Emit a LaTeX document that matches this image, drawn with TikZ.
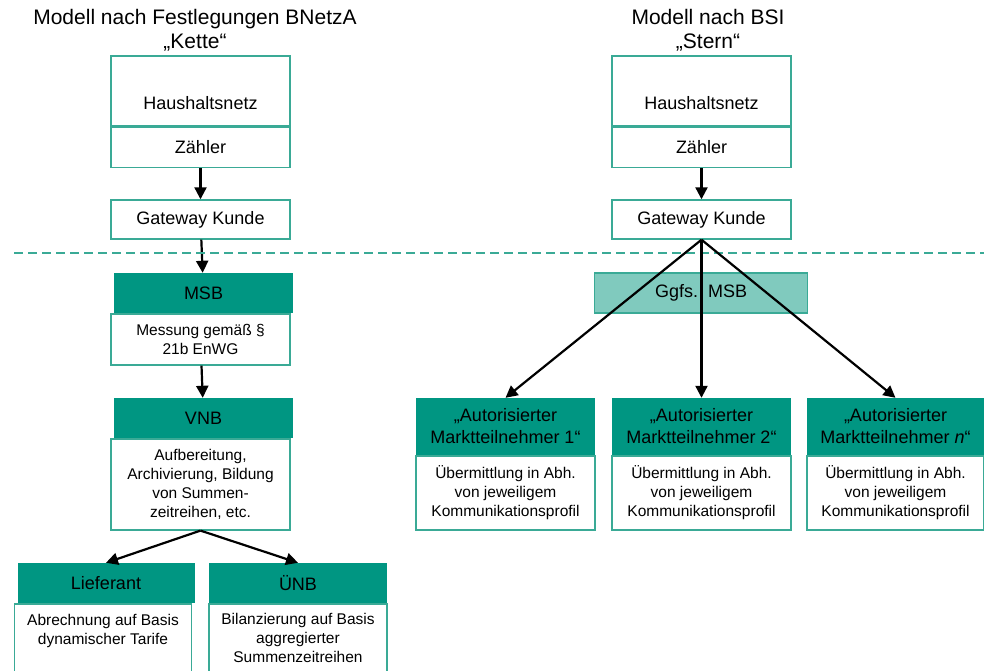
\documentclass[tikz,border=0pt]{standalone}
\usepackage{fontspec}
\setmainfont{Liberation Sans}
\usetikzlibrary{positioning,arrows.meta}

\definecolor{tealhead}{RGB}{0,150,130}
\definecolor{tealline}{RGB}{58,170,150}
\definecolor{teallight}{RGB}{128,202,190}

\begin{document}
\begin{tikzpicture}[x=1pt,y=-1pt,
  box/.style={draw=tealline, line width=1.4pt, fill=white, minimum width=179pt, inner sep=0pt, font=\fontsize{18}{22}\selectfont, align=center},
  head/.style={fill=tealhead, minimum width=179pt, minimum height=40pt, inner sep=0pt, font=\fontsize{18}{22}\selectfont, align=center},
  body/.style={draw=tealline, line width=1.4pt, fill=white, minimum width=179pt, inner sep=0pt, font=\fontsize{15.5}{19}\selectfont, align=center},
  lbl/.style={font=\fontsize{18}{22}\selectfont},
  title/.style={font=\fontsize{21}{24}\selectfont, align=center},
  pfeil/.style={-{Triangle[length=12pt,width=12pt]}, line width=2.2pt}]
\useasboundingbox (0,0) rectangle (984,671);

% titles
\node [title] (t1) at (195,30) {Modell nach Festlegungen BNetzA\\„Kette“};
\node [title] (t2) at (708,30) {Modell nach BSI\\„Stern“};

% left: Kette
\node [box, minimum height=70pt] (haus1) at (200.5,91) {};
\node [lbl] (haustxt1) at (200.5,103) {Haushaltsnetz};
\node [box, minimum height=40pt, below=0pt of haus1] (zaehler1) {Zähler};
\node [box, minimum height=39pt] (gw1) at (200.5,219.5) {Gateway Kunde};
\node [head] (msb1) at (203.5,293) {MSB};
\node [body, minimum height=51pt, below=0pt of msb1, xshift=-3pt] (msbtxt1) {Messung gemäß §\\21b EnWG};
\node [head] (vnb1) at (203.5,418) {VNB};
\node [body, minimum height=91pt, below=0pt of vnb1, xshift=-3pt] (vnbtxt1) {Aufbereitung,\\Archivierung, Bildung\\von Summen-\\zeitreihen, etc.};
\node [head, minimum width=177pt] (lief) at (106,583) {Lieferant};
\node [body, minimum width=177pt, minimum height=69pt, below=0pt of lief, xshift=-3pt] (lieftxt) {Abrechnung auf Basis\\dynamischer Tarife\\\mbox{}};
\node [head, minimum width=178pt] (uenb) at (298,583) {ÜNB};
\node [body, minimum width=178pt, minimum height=69pt, below=0pt of uenb] (uenbtxt) {Bilanzierung auf Basis\\aggregierter\\Summenzeitreihen};

\draw [pfeil] (zaehler1) -- (gw1);
\draw [pfeil] (gw1) -- (msb1);
\draw [pfeil] (msbtxt1) -- (vnb1);
\draw [pfeil] (vnbtxt1.south) -- (lief.north);
\draw [pfeil] (vnbtxt1.south) -- (uenb.north);

% dashed border
\coordinate (dl) at (14,253);
\coordinate (dr) at (984,253);
\draw [tealline, line width=2pt, dash pattern=on 9pt off 5pt] (dl) -- (dr);

% right: Stern
\node [box, minimum height=70pt] (haus2) at (701.5,91) {};
\node [lbl] (haustxt2) at (701.5,103) {Haushaltsnetz};
\node [box, minimum height=40pt, below=0pt of haus2] (zaehler2) {Zähler};
\node [box, minimum height=39pt] (gw2) at (701.5,219.5) {Gateway Kunde};
\node [head, draw=tealline, line width=1.4pt, fill=teallight, minimum width=213pt] (ggfs) at (701,293) {Ggfs.\ \ MSB};

\node [head, minimum height=57pt] (am1) at (505.5,426.5) {„Autorisierter\\Marktteilnehmer 1“};
\node [body, minimum height=74pt, below=0pt of am1] (amtxt1) {Übermittlung in Abh.\\von jeweiligem\\Kommunikationsprofil};
\node [head, minimum height=57pt] (am2) at (701.5,426.5) {„Autorisierter\\Marktteilnehmer 2“};
\node [body, minimum height=74pt, below=0pt of am2] (amtxt2) {Übermittlung in Abh.\\von jeweiligem\\Kommunikationsprofil};
\node [head, minimum width=177pt, minimum height=57pt] (am3) at (895.5,426.5) {„Autorisierter\\Marktteilnehmer \textit{n}“};
\node [body, minimum width=177pt, minimum height=74pt, below=0pt of am3] (amtxt3) {Übermittlung in Abh.\\von jeweiligem\\Kommunikationsprofil};

\draw [pfeil] (zaehler2) -- (gw2);
\draw [pfeil] (gw2.south) -- (am1.north);
\draw [pfeil] (gw2.south) -- (am2.north);
\draw [pfeil] (gw2.south) -- (am3.north);
\end{tikzpicture}
\end{document}
